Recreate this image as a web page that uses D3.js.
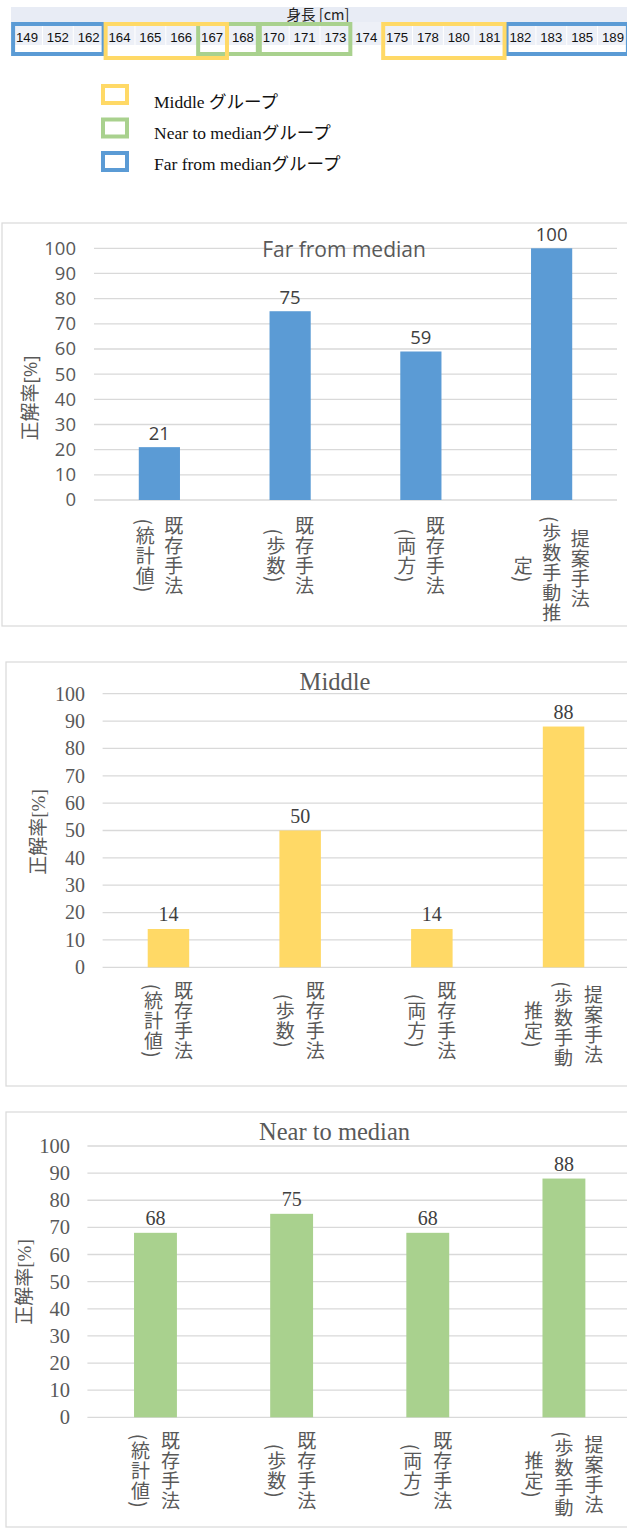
<!DOCTYPE html>
<html>
<head>
<meta charset="utf-8">
<script src="https://cdn.jsdelivr.net/npm/d3@7"></script>
<style>
  body { margin: 0; background: #fff; }
  svg { display: block; }
</style>
</head>
<body>
<svg id="canvas" width="627" height="1528"></svg>
<script>
// ---- data ----
const heights = [149, 152, 162, 164, 165, 166, 167, 168, 170, 171, 173, 174, 175, 178, 180, 181, 182, 183, 185, 189];
const heightHeader = "身長 [cm]";
const heightGroups = [
  { group: "near", from: 167, to: 168 },
  { group: "near", from: 170, to: 173 },
  { group: "far", from: 149, to: 162 },
  { group: "far", from: 182, to: 189 },
  { group: "middle", from: 164, to: 167 },
  { group: "middle", from: 175, to: 181 }
];
const legendGroups = ["middle", "near", "far"];
const legendLabels = ["Middle グループ", "Near to medianグループ", "Far from medianグループ"];
const groupColors = { middle: "#ffd966", near: "#a9d18e", far: "#5b9bd5" };

const methodKeys = ["stat", "steps", "both", "proposed"];
const farLabelLines = [["既存手法", "(統計値)"], ["既存手法", "(歩数)"], ["既存手法", "(両方)"], ["提案手法", "(歩数手動推", "定)"]];
const labelLines = [["既存手法", "(統計値)"], ["既存手法", "(歩数)"], ["既存手法", "(両方)"], ["提案手法", "(歩数手動", "推定)"]];
const farValues = [21, 75, 59, 100];
const middleValues = [14, 50, 14, 88];
const nearValues = [68, 75, 68, 88];
const yTicks = [0, 10, 20, 30, 40, 50, 60, 70, 80, 90, 100];
const yAxisTitle = "正解率[%]";

const svg = d3.select("#canvas");
const TEXT = "#595959";
const GRID = "#d9d9d9";
const SANS = "'Open Sans', 'Noto Sans CJK JP', sans-serif";
const SERIF = "'Liberation Serif', 'Noto Sans CJK JP', serif";
const CJK = "'Noto Sans CJK JP', sans-serif";

// ---- height table with group frames ----
const strip = svg.append("g");
const cellX = d3.scaleBand().domain(heights).range([11.6, 628.4]).padding(0);
strip.append("rect").attr("x", 11).attr("y", 7).attr("width", 616).attr("height", 15).attr("fill", "#e8ecf5");
strip.append("text").attr("x", 318).attr("y", 20).attr("text-anchor", "middle")
  .attr("font-family", CJK).attr("font-size", 14.5).attr("fill", "#222").text(heightHeader);
strip.selectAll("rect.cell").data(heights).join("rect").attr("class", "cell")
  .attr("x", d => cellX(d) + 0.5).attr("y", 22).attr("width", cellX.bandwidth() - 1).attr("height", 23)
  .attr("fill", "#edf0f7");
strip.selectAll("text.cell").data(heights).join("text").attr("class", "cell")
  .attr("x", d => cellX(d) + cellX.bandwidth() / 2).attr("y", 42).attr("text-anchor", "middle")
  .attr("font-family", "'Liberation Sans', sans-serif").attr("font-size", 13.2).attr("fill", "#111")
  .text(d => d);
strip.selectAll("rect.frame").data(heightGroups).join("rect").attr("class", "frame")
  .attr("x", d => cellX(d.from) + 1.5)
  .attr("y", 24)
  .attr("width", d => cellX(d.to) + cellX.bandwidth() - cellX(d.from) - 2)
  .attr("height", d => d.group === "middle" ? 34 : 30)
  .attr("fill", "none").attr("stroke", d => groupColors[d.group]).attr("stroke-width", 4);

// ---- legend ----
const legend = svg.append("g");
legendGroups.forEach((g, i) => {
  const y = 86 + i * 33.5;
  legend.append("rect").attr("x", 103).attr("y", y).attr("width", 24).attr("height", 17)
    .attr("fill", "none").attr("stroke", groupColors[g]).attr("stroke-width", 4);
  legend.append("text").attr("x", 154).attr("y", 108 + i * 31).attr("font-family", SERIF)
    .attr("font-size", 17.5).attr("fill", "#111").text(legendLabels[i]);
});

// ---- bar charts ----
function barChart(cfg) {
  const g = svg.append("g");
  g.append("rect").attr("x", cfg.frame[0]).attr("y", cfg.frame[1])
    .attr("width", cfg.frame[2] - cfg.frame[0]).attr("height", cfg.frame[3] - cfg.frame[1])
    .attr("fill", "#fff").attr("stroke", GRID).attr("stroke-width", 1.2);

  const x = d3.scaleBand().domain(methodKeys).range([cfg.x0, cfg.x1]).paddingInner(0.685).paddingOuter(0.3425);
  const y = d3.scaleLinear().domain([0, 100]).range([cfg.yBase, cfg.yTop]);

  g.selectAll("line.grid").data(yTicks).join("line").attr("class", "grid")
    .attr("x1", cfg.x0).attr("x2", cfg.x1).attr("y1", d => y(d)).attr("y2", d => y(d))
    .attr("stroke", GRID).attr("stroke-width", 1.3);

  const axis = g.append("g").attr("transform", `translate(${cfg.tickRight},0)`)
    .call(d3.axisLeft(y).tickValues(yTicks).tickSize(0).tickPadding(0));
  axis.select(".domain").remove();
  axis.selectAll("text").attr("font-family", cfg.font).attr("font-size", cfg.tickSize).attr("fill", TEXT);

  g.append("text").attr("transform", `translate(${cfg.axisTitle[0]},${cfg.axisTitle[1]}) rotate(-90)`)
    .attr("text-anchor", "middle").attr("dominant-baseline", "central")
    .attr("font-family", cfg.font).attr("font-size", 19).attr("fill", TEXT).text(yAxisTitle);

  g.append("text").attr("x", cfg.title[0]).attr("y", cfg.title[1]).attr("text-anchor", "middle")
    .attr("font-family", cfg.font).attr("font-size", cfg.titleSize).attr("fill", TEXT).text(cfg.name);

  g.selectAll("rect.bar").data(cfg.values).join("rect").attr("class", "bar")
    .attr("x", (d, i) => x(methodKeys[i])).attr("width", x.bandwidth())
    .attr("y", d => y(d)).attr("height", d => y(0) - y(d)).attr("fill", cfg.color);

  g.selectAll("text.val").data(cfg.values).join("text").attr("class", "val")
    .attr("x", (d, i) => x(methodKeys[i]) + x.bandwidth() / 2).attr("y", d => y(d) - 7.5)
    .attr("text-anchor", "middle").attr("font-family", cfg.font).attr("font-size", cfg.valueSize)
    .attr("fill", "#404040").text(d => d);

  // vertical category labels, first line on the right
  cfg.lines.forEach((cols, i) => {
    const cx = x(methodKeys[i]) + x.bandwidth() / 2;
    const n = cols.length;
    const texts = cols.map((t, j) => g.append("text")
      .attr("x", cx + ((n - 1) / 2 - j) * cfg.colGap)
      .style("writing-mode", "vertical-rl")
      .attr("text-anchor", "middle")
      .attr("font-family", CJK).attr("font-size", 19).attr("letter-spacing", 1)
      .attr("fill", TEXT).text(t));
    const maxLen = d3.max(texts, t => t.node().getComputedTextLength());
    texts.forEach(t => t.attr("y", cfg.yBase + cfg.labelPad + maxLen / 2));
  });
}

barChart({
  name: "Far from median", values: farValues, lines: farLabelLines, color: "#5b9bd5",
  frame: [2, 223, 640, 626], x0: 94, x1: 617, yBase: 500, yTop: 248.3,
  font: SANS, tickSize: 18.5, tickRight: 76, axisTitle: [30, 398],
  title: [344, 257], titleSize: 21, valueSize: 18.5, colGap: 28.5, labelPad: 16
});
barChart({
  name: "Middle", values: middleValues, lines: labelLines, color: "#ffd966",
  frame: [6, 662, 640, 1086], x0: 102.6, x1: 629.4, yBase: 967.3, yTop: 693.7,
  font: SERIF, tickSize: 20, tickRight: 85, axisTitle: [38, 832],
  title: [335, 690], titleSize: 24.5, valueSize: 20, colGap: 30, labelPad: 14
});
barChart({
  name: "Near to median", values: nearValues, lines: labelLines, color: "#a9d18e",
  frame: [6, 1112, 640, 1527], x0: 87.4, x1: 632, yBase: 1417.3, yTop: 1146,
  font: SERIF, tickSize: 20.5, tickRight: 70, axisTitle: [24, 1282],
  title: [334.5, 1140], titleSize: 24.5, valueSize: 20, colGap: 30, labelPad: 14
});
</script>
</body>
</html>
